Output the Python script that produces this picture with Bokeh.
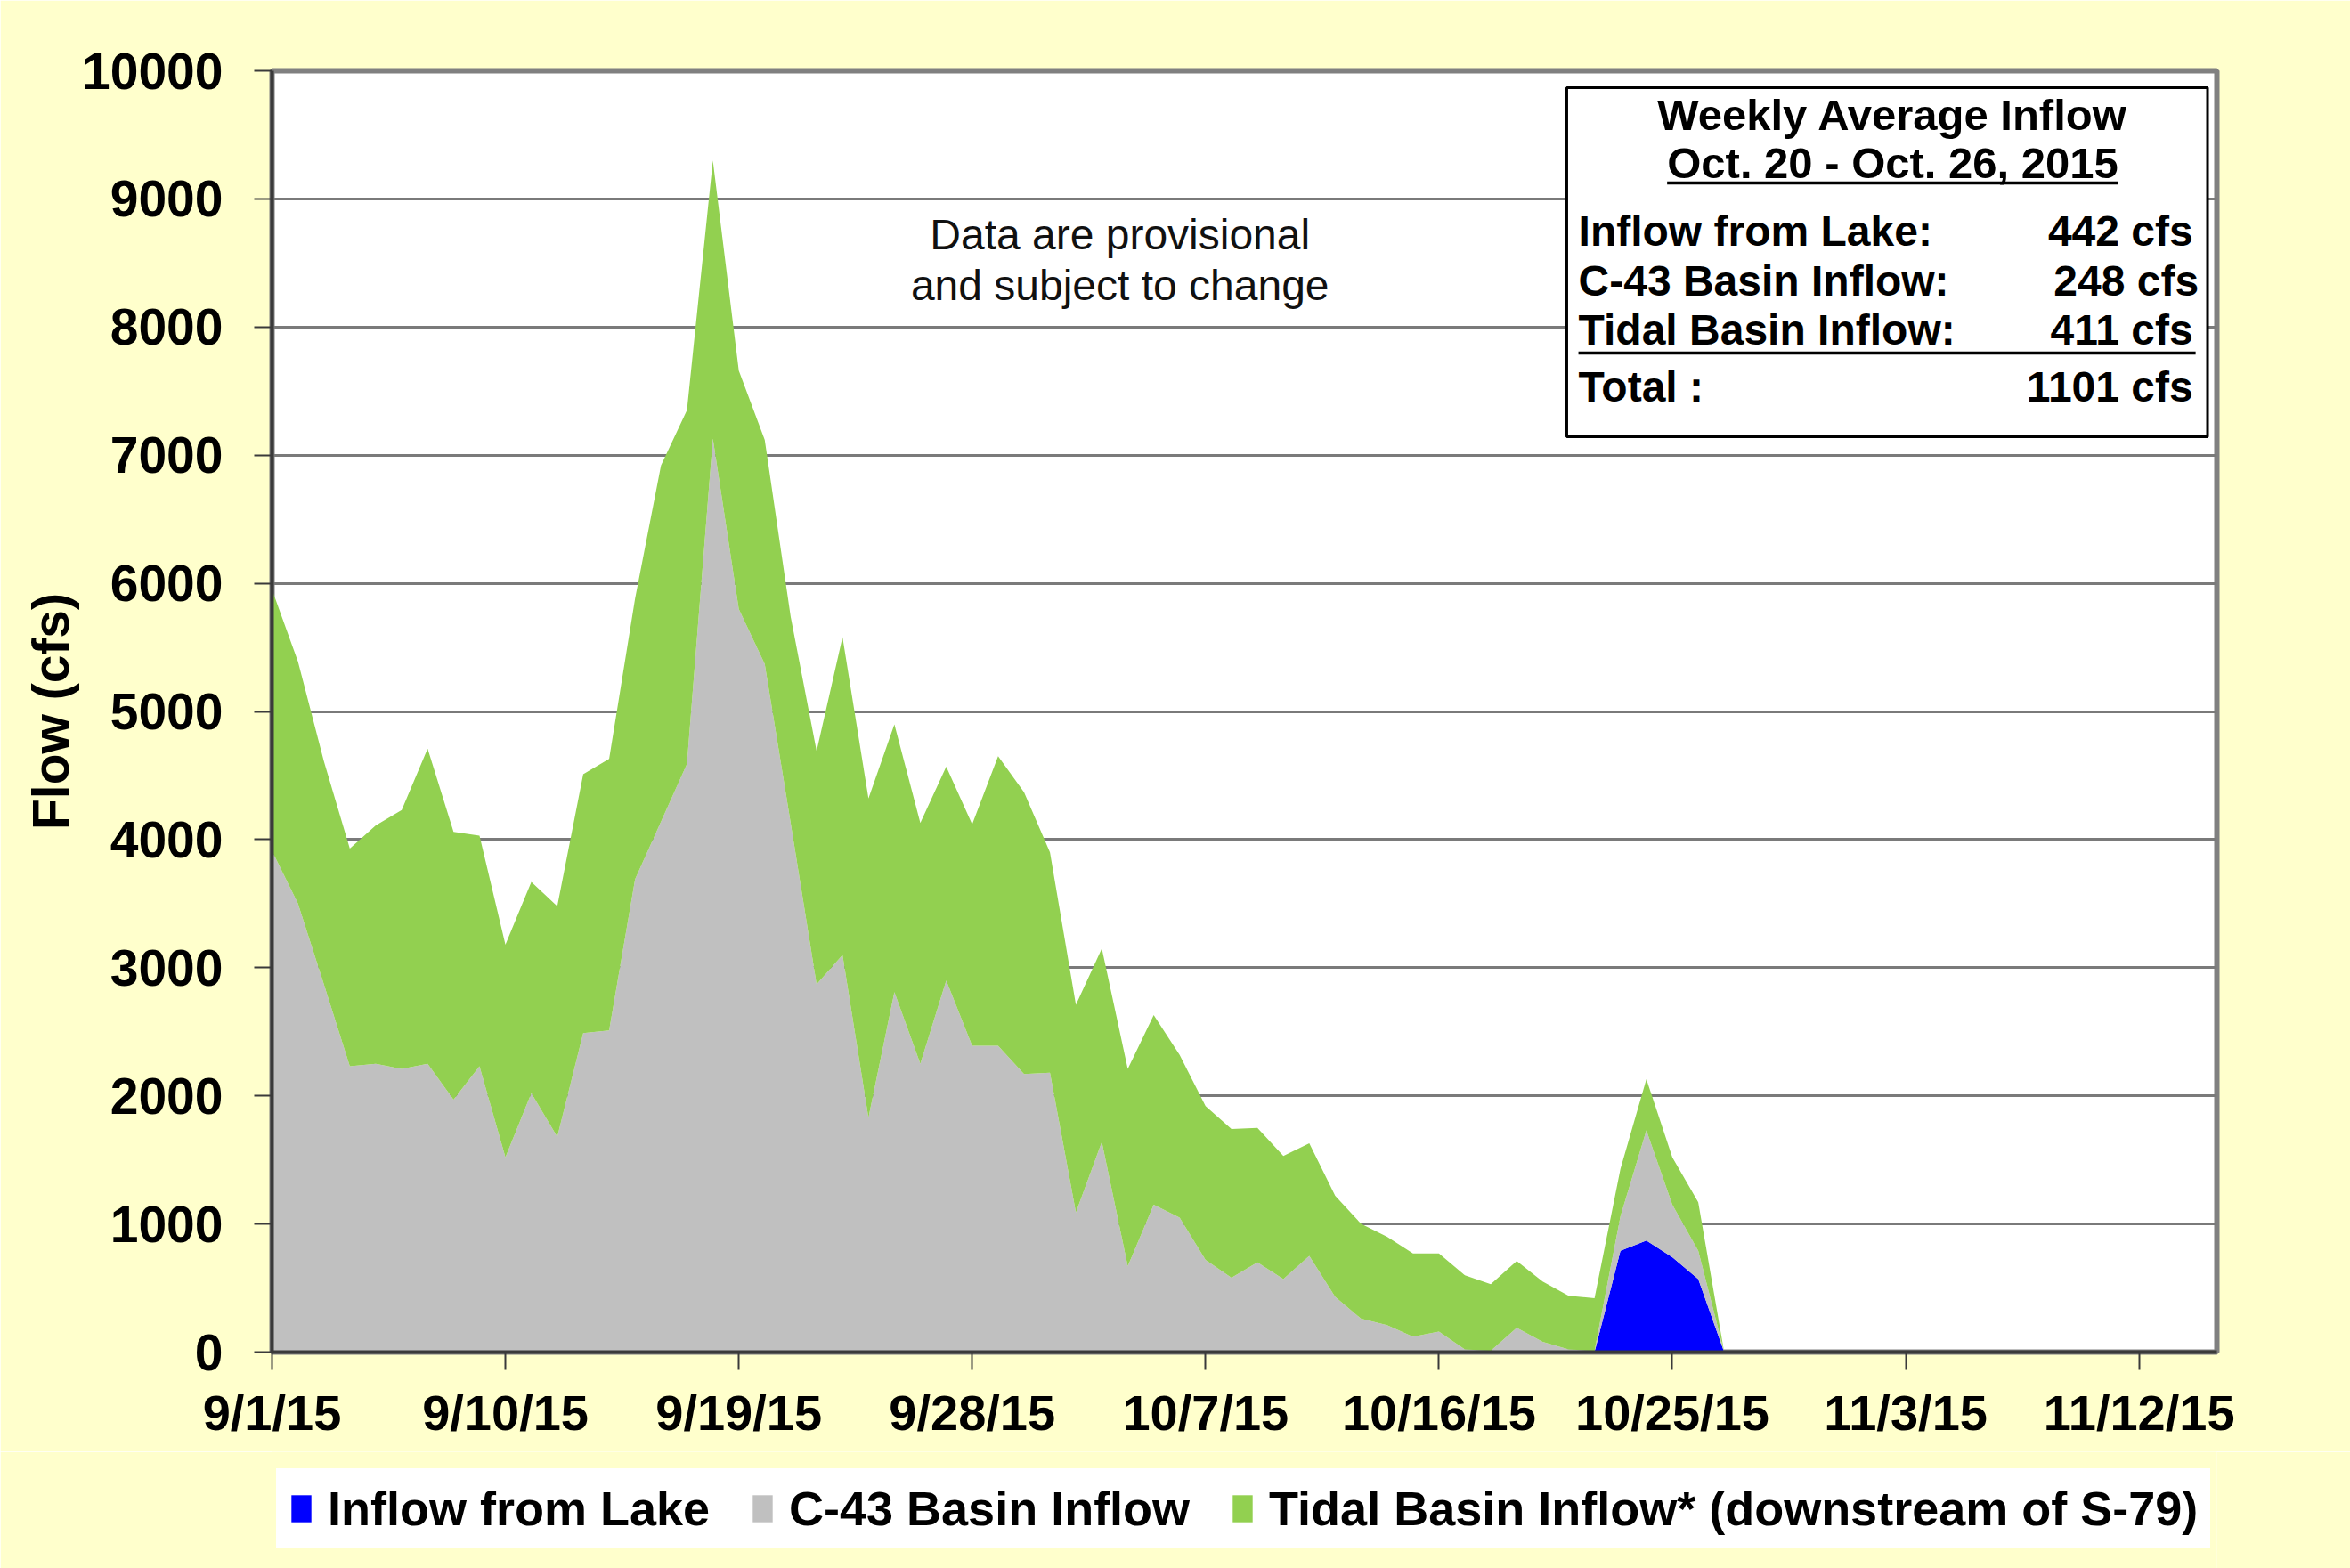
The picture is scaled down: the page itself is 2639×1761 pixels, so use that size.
import pandas as pd
from bokeh.plotting import figure
from bokeh.layouts import column
from bokeh.models import (ColumnDataSource, Range1d, FixedTicker, Legend, LegendItem,
                          Label, BoxAnnotation)
from bokeh.embed import file_html
from bokeh.resources import INLINE

# ---------------- data ----------------
start_date = "2015-09-01"
series_names = ["Inflow from Lake", "C-43 Basin Inflow",
                "Tidal Basin Inflow* (downstream of S-79)"]
series_colors = ["#0000FF", "#C0C0C0", "#92D050"]

lake = [0, 0, 0, 0, 0, 0, 0, 0, 0, 0,
        0, 0, 0, 0, 0, 0, 0, 0, 0, 0,
        0, 0, 0, 0, 0, 0, 0, 0, 0, 0,
        0, 0, 0, 0, 0, 0, 0, 0, 0, 0,
        0, 0, 0, 0, 0, 0, 0, 0, 0, 0,
        0, 0, 790, 870, 740, 570, 0]
basin = [3910, 3500, 2870, 2230, 2250, 2210, 2250, 1970, 2230, 1520,
         2020, 1680, 2490, 2510, 3690, 4140, 4590, 7130, 5800, 5370,
         4130, 2870, 3100, 1830, 2810, 2250, 2900, 2390, 2390, 2170,
         2180, 1090, 1640, 670, 1150, 1050, 720, 580, 700, 570,
         750, 430, 260, 210, 120, 160, 20, 10, 190, 80,
         20, 10, 270, 860, 410, 220, 0]
tidal = [2040, 1890, 1740, 1700, 1860, 2020, 2460, 2090, 1800, 1660,
         1650, 1800, 2020, 2120, 2190, 2780, 2760, 2170, 1860, 1750,
         1610, 1820, 2480, 2490, 2090, 1880, 1670, 1730, 2260, 2200,
         1720, 1620, 1510, 1540, 1480, 1270, 1200, 1160, 1050, 960,
         880, 790, 740, 690, 650, 610, 580, 520, 520, 470,
         420, 410, 370, 400, 370, 380, 0]

x_tick_labels = ["9/1/15", "9/10/15", "9/19/15", "9/28/15", "10/7/15",
                 "10/16/15", "10/25/15", "11/3/15", "11/12/15"]
x_end_date = "2015-11-15"
y_ticks = [0, 1000, 2000, 3000, 4000, 5000, 6000, 7000, 8000, 9000, 10000]

weekly_title = ["Weekly Average Inflow", "Oct. 20 - Oct. 26, 2015"]
weekly_labels = ["Inflow from Lake:", "C-43 Basin Inflow:", "Tidal Basin Inflow:", "Total :"]
weekly_values = [442, 248, 411, 1101]
note_lines = ["Data are provisional", "and subject to change"]

# ---------------- derived ----------------
t0 = pd.Timestamp(start_date)
dates = pd.date_range(start_date, periods=len(lake), freq="D")
day = [(d - t0).days for d in dates]
tick_pos = [(pd.to_datetime(t, format="%m/%d/%y") - t0).days for t in x_tick_labels]
x_end = (pd.Timestamp(x_end_date) - t0).days

src = ColumnDataSource(dict(day=day, lake=lake, basin=basin, tidal=tidal))

FONT = "Liberation Sans"
YELLOW = "#FFFFCC"

# ---------------- main chart ----------------
p = figure(width=2639, height=1630,
           min_border_left=305, min_border_right=150,
           min_border_top=79, min_border_bottom=112,
           x_range=Range1d(0, x_end), y_range=Range1d(0, max(y_ticks)),
           output_backend="svg", toolbar_location=None,
           background_fill_color="white", border_fill_color=YELLOW)

p.varea_stack(["lake", "basin", "tidal"], x="day", color=series_colors, source=src)

p.outline_line_color = "#808080"
p.outline_line_width = 6

p.xgrid.visible = False
p.ygrid.grid_line_color = "#7a7a7a"
p.ygrid.grid_line_width = 3
p.ygrid.ticker = FixedTicker(ticks=y_ticks)

for ax in (p.xaxis[0], p.yaxis[0]):
    ax.axis_line_color = "#3a3a3a"
    ax.axis_line_width = 4
    ax.major_tick_line_color = "#3a3a3a"
    ax.major_tick_line_width = 2
    ax.major_tick_out = 20
    ax.major_tick_in = 0
    ax.minor_tick_out = 0
    ax.minor_tick_in = 0
    ax.major_label_text_font = FONT
    ax.major_label_text_font_style = "bold"
    ax.major_label_text_color = "black"

p.yaxis.ticker = FixedTicker(ticks=y_ticks)
p.yaxis.major_label_text_font_size = "57px"
p.yaxis.major_label_standoff = 35
p.yaxis.axis_label = "Flow (cfs)"
p.yaxis.axis_label_text_font = FONT
p.yaxis.axis_label_text_font_style = "bold"
p.yaxis.axis_label_text_font_size = "57px"
p.yaxis.axis_label_text_color = "black"
p.yaxis.axis_label_standoff = 0

p.xaxis.ticker = FixedTicker(ticks=tick_pos)
p.xaxis.major_label_overrides = {pos: lab for pos, lab in zip(tick_pos, x_tick_labels)}
p.xaxis.major_label_text_font_size = "56px"
p.xaxis.major_label_standoff = 16

# weekly-average text box
p.add_layout(BoxAnnotation(left=49.93, right=74.64, bottom=7144, top=9868,
                           fill_color="white", fill_alpha=1,
                           line_color="black", line_alpha=1, line_width=3))
p.add_layout(BoxAnnotation(left=53.8, right=71.2, bottom=9112, top=9136,
                           fill_color="black", fill_alpha=1, line_alpha=0))
p.add_layout(BoxAnnotation(left=50.38, right=74.18, bottom=7785, top=7809,
                           fill_color="black", fill_alpha=1, line_alpha=0))

def add_text(x, y, text, align="left", size="48px", style="bold", color="black"):
    p.add_layout(Label(x=x, y=y, text=text, text_align=align, text_baseline="middle",
                       text_font=FONT, text_font_style=style, text_font_size=size,
                       text_color=color))

add_text(62.5, 9659, weekly_title[0], align="center", size="49px")
add_text(62.5, 9284, weekly_title[1], align="center", size="49px")
row_y = [8749, 8360, 7978, 7533]
val_x = [74.08, 74.3, 74.08, 74.08]
for lab, val, yy, vx in zip(weekly_labels, weekly_values, row_y, val_x):
    add_text(50.38, yy, lab)
    add_text(vx, yy, f"{val} cfs", align="right")

add_text(32.7, 8721, note_lines[0], align="center", size="48px", style="normal", color="#111111")
add_text(32.7, 8325, note_lines[1], align="center", size="48px", style="normal", color="#111111")

# ---------------- legend strip under the chart ----------------
# the stacked areas are repeated here only as legend keys; the y range keeps them out of view
p2 = figure(width=2639, height=131, x_range=Range1d(0, x_end), y_range=Range1d(20000, 30000),
            output_backend="svg", toolbar_location=None, min_border=0,
            x_axis_location=None, y_axis_location=None,
            background_fill_color=YELLOW, border_fill_color=YELLOW, outline_line_color=None)
p2.xgrid.visible = False
p2.ygrid.visible = False
keys = p2.varea_stack(["lake", "basin", "tidal"], x="day", color=series_colors, source=src)

legend = Legend(items=[LegendItem(label=n, renderers=[r]) for n, r in zip(series_names, keys)],
                orientation="horizontal", location=(5, 22),
                glyph_width=28, glyph_height=38, label_standoff=16, spacing=45,
                padding=14, margin=0,
                label_text_font=FONT, label_text_font_style="bold",
                label_text_font_size="54px", label_text_color="black",
                background_fill_color="white", background_fill_alpha=1,
                border_line_alpha=0)
p2.add_layout(legend, "center")

layout = column(p, p2, spacing=0)
open("out.html", "w").write(file_html(layout, INLINE))
